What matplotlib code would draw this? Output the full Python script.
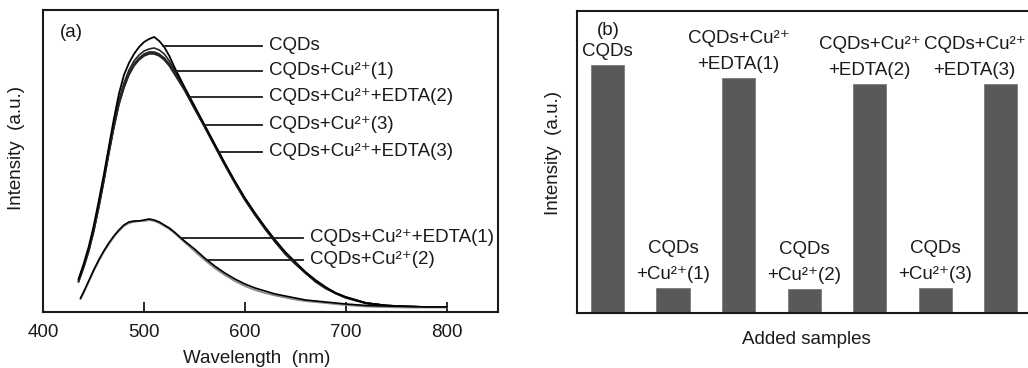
"""Fluorescence spectra of CQDs with Cu2+ / EDTA cycling and the peak intensity bars."""

import matplotlib

matplotlib.use("Agg")

import numpy as np  # noqa: E402
from matplotlib import pyplot as plt  # noqa: E402

plt.rcParams["font.family"] = ["Liberation Sans", "DejaVu Sans"]

# --- spectra (a) ---------------------------------------------------------
wl_upper = [435, 440, 445, 450, 455, 460, 465, 470, 475, 480, 485, 490, 495,
            500, 505, 510, 515, 520, 525, 530, 540, 550, 560, 570, 580, 590,
            600, 610, 620, 630, 640, 650, 660, 670, 680, 690, 700, 720, 740,
            760, 780, 800]
cqds = [33, 48, 65, 86, 111, 137, 165, 193, 218, 237, 249, 258, 265, 270,
        273, 275, 271, 265, 256, 245, 225, 206, 187, 168, 149, 131, 114, 99,
        85, 72, 60, 50, 40, 32, 25, 19, 15, 9, 6.5, 5.5, 5, 5]
cu_1 = [32, 46, 63, 84, 108, 134, 162, 189, 212, 229, 242, 251, 257, 261,
        263, 264, 262, 258, 251, 242, 224, 205, 186, 167, 148, 130, 113, 98,
        84, 71, 59, 49, 40, 31, 24, 19, 15, 9, 6.5, 5.5, 5, 5]
edta_2 = [31, 45, 62, 82, 106, 132, 160, 186, 209, 226, 239, 248, 254, 258,
          260, 260, 258, 254, 248, 240, 223, 204, 186, 167, 148, 130, 113, 98,
          84, 71, 59, 49, 39, 31, 24, 19, 14.5, 9, 6.5, 5.5, 5, 5]
cu_3 = [31, 45, 61, 81, 105, 131, 159, 185, 208, 225, 238, 247, 253, 257,
        259, 259, 257, 253, 247, 239, 222, 204, 185, 166, 147, 129, 112, 97,
        83, 70, 58, 48, 39, 31, 24, 18.5, 14.5, 9, 6.5, 5.5, 5, 5]
edta_3 = [30, 44, 60, 80, 104, 130, 158, 184, 207, 224, 237, 246, 252, 256,
          258, 258, 256, 252, 246, 238, 222, 203, 185, 166, 147, 129, 112, 97,
          83, 70, 58, 48, 39, 30, 23.5, 18.5, 14, 8.5, 6, 5, 5, 5]

wl_lower = [437, 440, 445, 450, 455, 460, 465, 470, 475, 480, 485, 490, 495,
            500, 505, 510, 515, 520, 525, 530, 540, 550, 560, 570, 580, 590,
            600, 610, 620, 630, 640, 650, 660, 670, 680, 690, 700, 720, 740,
            760, 780, 800]
edta_1 = [14, 20, 31, 42, 52, 61, 69, 76, 82, 87, 90, 91, 91, 92, 93, 92, 90,
          87, 84, 80, 71, 63, 54, 46, 39, 33, 28, 24, 21, 18, 16, 14, 12, 11,
          10, 9, 8, 6.5, 6, 5.5, 5, 5]
cu_2 = [13, 19, 30, 41, 51, 60, 68, 75, 81, 86, 89, 90, 91, 91, 92, 91, 89,
        86, 83, 79, 70, 61, 52, 44, 37, 31, 26, 22, 19, 16.5, 14.5, 12.5, 11,
        10, 9, 8, 7, 5.5, 5, 4.5, 4.5, 4.5]

upper_labels = ["CQDs", "CQDs+Cu²⁺(1)", "CQDs+Cu²⁺+EDTA(2)",
                "CQDs+Cu²⁺(3)", "CQDs+Cu²⁺+EDTA(3)"]
upper_label_y = [266, 241, 215, 187, 160]
lower_labels = ["CQDs+Cu²⁺+EDTA(1)", "CQDs+Cu²⁺(2)"]
lower_label_y = [74, 52]
wl_ticks = [400, 500, 600, 700, 800]

# --- bars (b) ------------------------------------------------------------
bar_heights = [248, 25, 235, 24, 229, 25, 229]
bar_labels = [
    ["CQDs"],
    ["CQDs", "+Cu²⁺(1)"],
    ["CQDs+Cu²⁺", "+EDTA(1)"],
    ["CQDs", "+Cu²⁺(2)"],
    ["CQDs+Cu²⁺", "+EDTA(2)"],
    ["CQDs", "+Cu²⁺(3)"],
    ["CQDs+Cu²⁺", "+EDTA(3)"],
]

FS = 13.5
INK = "#1a1a1a"


def leader_start(wl, vals, y):
    """Wavelength where the falling side of a curve reaches y."""
    wl = np.asarray(wl, dtype=float)
    vals = np.asarray(vals, dtype=float)
    peak = int(np.argmax(vals))
    return float(np.interp(y, vals[peak:][::-1], wl[peak:][::-1]))


def style_frame(ax):
    for side in ax.spines.values():
        side.set_linewidth(1.5)
        side.set_color(INK)


fig = plt.figure(figsize=(10.28, 3.68), dpi=100)

ax = fig.add_axes([0.0421, 0.1522, 0.4423, 0.8207])
style_frame(ax)
for vals in [edta_3, cu_3, edta_2, cu_1]:
    ax.plot(wl_upper, vals, color="#262626", lw=1.2)
ax.plot(wl_upper, cqds, color="black", lw=1.3)
ax.plot(wl_lower, cu_2, color="#8c8c8c", lw=1.4)
ax.plot(wl_lower, edta_1, color="black", lw=1.2)

for text, y in zip(upper_labels, upper_label_y):
    x0 = leader_start(wl_upper, cqds, y)
    ax.plot([x0, 616.5], [y, y], color=INK, lw=1.3)
    ax.text(624, y, text, fontsize=FS, va="center", ha="left", color=INK)
for text, y in zip(lower_labels, lower_label_y):
    x0 = leader_start(wl_lower, edta_1, y)
    ax.plot([x0, 657.5], [y, y], color=INK, lw=1.3)
    ax.text(664.5, y, text, fontsize=FS, va="center", ha="left", color=INK)

ax.set_xlim(400, 851)
ax.set_ylim(0, 302)
ax.set_xticks(wl_ticks)
ax.set_yticks([])
ax.tick_params(axis="x", direction="in", length=7, width=1.3, pad=9,
               labelsize=FS, colors=INK)
ax.text(0.037, 0.927, "(a)", transform=ax.transAxes, fontsize=FS,
        ha="left", va="center", color=INK)
ax.set_xlabel("Wavelength  (nm)", fontsize=FS, color=INK)
ax.xaxis.set_label_coords(0.47, -0.126)
ax.set_ylabel("Intensity  (a.u.)", fontsize=FS, color=INK)
ax.yaxis.set_label_coords(-0.040, 0.543)

bx = fig.add_axes([0.561, 0.1503, 0.4507, 0.8207])
style_frame(bx)
bx.spines["right"].set_visible(False)
pos = np.arange(len(bar_heights))
bx.bar(pos, bar_heights, width=0.51, color="#595959", edgecolor="#7a7a7a",
       linewidth=0.6)
label_x = [0, 1, 2, 3, 4, 5, 5.6]
for x, h, lines in zip(label_x, bar_heights, bar_labels):
    offsets = [13] if len(lines) == 1 else [39, 13]
    for line, off in zip(lines, offsets):
        bx.text(x, h + off, line, fontsize=FS, ha="center", va="center",
                color=INK)
bx.set_xlim(-0.473, 6.6)
bx.set_ylim(0, 302)
bx.set_xticks([])
bx.set_yticks([])
bx.text(0.0676, 0.936, "(b)", transform=bx.transAxes, fontsize=FS,
        ha="center", va="center", color=INK)
bx.set_xlabel("Added samples", fontsize=FS, color=INK)
bx.xaxis.set_label_coords(0.496, -0.06)
bx.set_ylabel("Intensity  (a.u.)", fontsize=FS, color=INK)
bx.yaxis.set_label_coords(-0.032, 0.528)

fig.savefig("out.png", dpi=100)
